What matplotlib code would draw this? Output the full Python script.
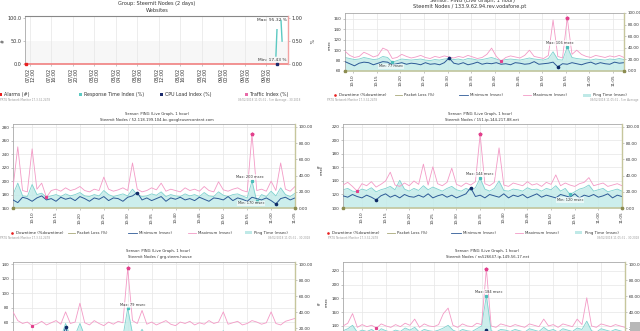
import numpy as np
import matplotlib
matplotlib.use('Agg')
import matplotlib.pyplot as plt
from matplotlib.patches import Rectangle

# ---------------- data ----------------
# Panel 1: group overview (2 days), hours after 07/02 12:00
p1_tick_labels = ["07/02\n12:00", "07/02\n16:00", "07/02\n20:00", "08/02\n00:00", "08/02\n04:00",
                  "08/02\n08:00", "08/02\n12:00", "08/02\n16:00", "08/02\n20:00", "09/02\n00:00",
                  "09/02\n04:00", "09/02\n08:00"]
resp_t = [45.75, 45.95, 46.3, 46.7, 46.9]
resp_v = [17.43, 75.0, np.nan, 95.32, 50.0]
cpu_t = [45.95]
cpu_v = [0.0]
alarm_t = [-0.9, 48.0]
alarm_v = [0.0, 0.0]

ping_tick_labels = ["10:10", "10:15", "10:20", "10:25", "10:30", "10:35",
                    "10:40", "10:45", "10:50", "10:55", "11:00", "11:05"]

# Panel 2: 133.9.62.94.rev.vodafone.pt
p2_max = [98, 90, 86, 88, 96, 92, 87, 90, 104, 100, 84, 86, 92, 88, 85, 87, 90, 86, 84, 88,
          86, 89, 87, 85, 88, 86, 90, 87, 84, 86, 92, 104, 88, 79, 86, 89, 87, 85, 90, 100,
          88, 86, 84, 90, 158, 88, 85, 162, 92, 100, 92, 88, 86, 90, 88, 86, 89, 87, 90, 86]
p2_ping = [86, 84, 82, 83, 86, 84, 82, 83, 88, 86, 77, 80, 83, 82, 81, 82, 83, 81, 80, 82,
           81, 83, 84, 82, 83, 81, 84, 83, 81, 82, 84, 86, 83, 80, 82, 83, 82, 81, 83, 85,
           83, 82, 81, 84, 97, 82, 81, 106, 86, 84, 83, 82, 81, 83, 82, 81, 83, 82, 84, 82]
p2_min = [78, 74, 70, 75, 77, 76, 72, 75, 78, 77, 72, 74, 76, 73, 75, 74, 72, 76, 73, 74,
          72, 76, 85, 75, 73, 76, 72, 74, 77, 73, 75, 74, 76, 73, 74, 72, 76, 75, 73, 74,
          78, 73, 74, 75, 77, 68, 74, 73, 76, 74, 72, 75, 77, 73, 76, 74, 73, 77, 75, 76]

# Panel 3: 52.118.199.104.bc.googleusercontent.com
p3_max = [190, 251, 186, 184, 248, 188, 197, 176, 186, 188, 185, 190, 186, 188, 192, 186, 184, 188, 186, 206,
          188, 185, 187, 190, 186, 227, 188, 184, 186, 190, 187, 197, 185, 188, 186, 184, 190, 186, 188, 185,
          192, 186, 184, 199, 187, 185, 188, 190, 186, 184, 270, 186, 188, 185, 200, 186, 227, 188, 185, 192]
p3_ping = [180, 197, 178, 177, 195, 180, 182, 176, 178, 180, 177, 181, 178, 180, 183, 178, 177, 180, 178, 186,
           180, 177, 179, 181, 178, 188, 180, 177, 178, 181, 179, 184, 177, 180, 178, 177, 181, 178, 180, 177,
           183, 178, 177, 184, 179, 177, 180, 181, 178, 175, 200, 170, 180, 177, 185, 178, 190, 180, 177, 182]
p3_min = [172, 168, 176, 174, 170, 175, 178, 172, 174, 170, 176, 173, 175, 171, 177, 174, 170, 175, 173, 177,
          171, 175, 174, 170, 176, 178, 183, 172, 175, 171, 174, 177, 170, 175, 173, 176, 172, 174, 171, 176,
          173, 170, 175, 174, 172, 177, 171, 175, 173, 170, 176, 174, 172, 175, 171, 166, 174, 176, 172, 175]

# Panel 4: 151.ip-144-217-88.net
p4_max = [134, 138, 132, 125, 136, 133, 139, 131, 135, 140, 153, 134, 132, 137, 133, 140, 135, 165, 134, 161,
          136, 133, 138, 159, 135, 132, 137, 134, 139, 209, 136, 133, 138, 189, 134, 132, 137, 135, 133, 139,
          134, 136, 132, 138, 135, 149, 133, 137, 134, 132, 136, 138, 145, 133, 135, 137, 132, 134, 136, 133]
p4_ping = [127, 129, 125, 124, 128, 126, 130, 124, 127, 129, 132, 127, 141, 128, 125, 129, 126, 133, 127, 131,
           128, 125, 129, 132, 127, 125, 129, 126, 130, 144, 128, 125, 129, 140, 126, 125, 128, 127, 125, 130,
           127, 128, 125, 129, 127, 133, 125, 129, 120, 124, 128, 130, 134, 125, 127, 129, 124, 126, 128, 125]
p4_min = [118, 116, 120, 117, 115, 119, 116, 112, 118, 121, 116, 119, 115, 120, 117, 116, 119, 116, 121, 115,
          118, 120, 116, 119, 115, 118, 121, 130, 117, 119, 115, 120, 118, 116, 121, 115, 119, 117, 120, 115,
          118, 121, 116, 119, 117, 115, 120, 118, 116, 121, 115, 119, 117, 120, 116, 118, 121, 115, 119, 117]

# Panel 5: grg.steem.house
p5_max = [74, 62, 58, 60, 55, 57, 61, 56, 59, 62, 57, 74, 58, 60, 86, 59, 56, 62, 58, 55,
          60, 57, 61, 59, 134, 62, 58, 76, 57, 60, 56, 59, 62, 57, 55, 60, 58, 61, 56, 59,
          57, 62, 58, 60, 74, 57, 59, 61, 56, 58, 62, 60, 57, 59, 74, 58, 56, 61, 63, 65]
p5_ping = [46, 40, 38, 42, 36, 39, 43, 37, 41, 44, 38, 58, 40, 42, 58, 41, 37, 44, 39, 36,
           42, 38, 43, 40, 79, 44, 39, 50, 38, 42, 37, 41, 44, 38, 36, 42, 39, 43, 37, 41,
           38, 44, 39, 42, 48, 38, 41, 43, 37, 40, 44, 42, 38, 41, 46, 39, 37, 43, 41, 44]
p5_min = [34, 31, 30, 33, 29, 31, 35, 30, 32, 34, 31, 53, 32, 33, 40, 32, 30, 34, 31, 29,
          33, 30, 34, 32, 45, 34, 31, 36, 30, 33, 29, 32, 34, 30, 29, 33, 31, 34, 30, 32,
          31, 34, 31, 33, 36, 30, 32, 34, 29, 31, 34, 33, 30, 32, 35, 31, 29, 34, 32, 34]

# Panel 6: ns526647.ip-149-56-17.net
p6_max = [140, 144, 158, 138, 142, 139, 141, 137, 143, 140, 138, 142, 139, 144, 141, 150, 138, 143, 140, 139,
          142, 158, 166, 141, 138, 143, 140, 139, 144, 142, 223, 140, 138, 143, 141, 139, 142, 140, 138, 143,
          141, 139, 150, 140, 142, 138, 143, 141, 139, 150, 142, 181, 140, 138, 143, 141, 139, 142, 140, 138]
p6_ping = [133, 136, 141, 131, 134, 132, 135, 130, 136, 133, 131, 134, 132, 137, 134, 138, 131, 135, 133, 132,
           134, 137, 141, 134, 131, 135, 133, 132, 136, 140, 184, 133, 131, 135, 134, 132, 135, 133, 131, 136,
           134, 132, 138, 133, 135, 131, 136, 134, 132, 137, 135, 147, 133, 131, 136, 134, 132, 135, 133, 131]
p6_min = [124, 127, 125, 122, 126, 123, 127, 121, 126, 124, 122, 125, 123, 128, 125, 126, 122, 126, 124, 123,
          125, 127, 126, 125, 122, 126, 124, 123, 127, 126, 134, 124, 122, 126, 125, 123, 126, 124, 122, 127,
          125, 123, 126, 124, 126, 122, 127, 125, 123, 126, 126, 128, 124, 122, 127, 125, 123, 126, 124, 122]

packet_loss = [0.0] * 60

# ---------------- style ----------------
W, H = 640, 331
C_FILL = '#c4ebe9'
C_PLINE = '#7fd2cf'
C_MAX = '#f39ac6'
C_MAXM = '#e2408c'
C_MIN = '#2d5a96'
C_MINM = '#0e2a66'
C_PL = '#c2c296'
C_GRID = '#e6e6e6'
C_SP = '#a8a8a8'
C_TXT = '#333333'
C_FOOT = '#9a9a9a'

plt.rcParams['font.family'] = ['DejaVu Sans']
fig = plt.figure(figsize=(6.4, 3.31), dpi=100)
fig.patch.set_facecolor('white')


def px_axes(x0, y0, x1, y1, **kw):
    return fig.add_axes([x0 / W, 1 - y1 / H, (x1 - x0) / W, (y1 - y0) / H], **kw)


def ping_panel(box, t0, ylim_l, yt_l, ylim_r, ping, mn, mx, maxoff, minoff, xlabels=True):
    ax = px_axes(*box)
    n = len(ping)
    x = np.arange(n)
    ping = np.asarray(ping, float)
    mn = np.asarray(mn, float)
    mx = np.asarray(mx, float)
    ax.set_xlim(0, n - 1)
    ax.set_ylim(*ylim_l)
    ax.set_axisbelow(True)
    ax.grid(True, color=C_GRID, lw=0.5)
    ax.fill_between(x, ylim_l[0], ping, color=C_FILL, lw=0, alpha=0.85, zorder=1)
    ax.plot(x, ping, color=C_PLINE, lw=0.6, zorder=2)
    ax.plot(x, mx, color=C_MAX, lw=0.6, zorder=3)
    ax.plot(x, mn, color=C_MIN, lw=0.7, zorder=4)
    i = int(np.argmax(mx)); ax.plot(i, mx[i], marker='*', ms=2.6, color=C_MAXM, zorder=6, clip_on=False)
    i = int(np.argmin(mx)); ax.plot(i, mx[i], marker='s', ms=1.3, color=C_MAXM, zorder=6)
    i = int(np.argmax(mn)); ax.plot(i, mn[i], marker='o', ms=1.6, color=C_MINM, zorder=6)
    i = int(np.argmin(mn)); ax.plot(i, mn[i], marker='o', ms=1.6, color=C_MINM, zorder=6)
    i = int(np.argmax(ping)); ax.plot(i, ping[i], marker='s', ms=1.4, color='#4cbdb9', zorder=6)
    ax.annotate(f"Max: {int(ping[i])} msec", xy=(i, ping[i]), xytext=maxoff, textcoords='offset points',
                ha='center', va='center', fontsize=2.6, color=C_TXT, zorder=7,
                bbox=dict(boxstyle='square,pad=0.2', fc='white', ec='none', alpha=0.6))
    j = int(np.argmin(ping)); ax.plot(j, ping[j], marker='s', ms=1.4, color='#4cbdb9', zorder=6)
    ax.annotate(f"Min: {int(ping[j])} msec", xy=(j, ping[j]), xytext=minoff, textcoords='offset points',
                ha='center', va='center', fontsize=2.6, color=C_TXT, zorder=7,
                bbox=dict(boxstyle='square,pad=0.2', fc='white', ec='none', alpha=0.6))
    ax.set_xticks([t0 + 5 * k for k in range(len(ping_tick_labels))])
    ax.set_xticklabels(ping_tick_labels, rotation=90)
    ax.set_yticks(yt_l)
    ax.set_yticklabels([str(v) for v in yt_l])
    ax.tick_params(labelsize=3.0, length=1.5, width=0.4, color='#999999', pad=1.2, labelcolor=C_TXT)
    if not xlabels:
        ax.tick_params(axis='x', labelbottom=False)
    for s in ('left', 'top'):
        ax.spines[s].set_color(C_SP); ax.spines[s].set_linewidth(0.6)
    ax.spines['right'].set_visible(False)
    ax.spines['bottom'].set_visible(False)
    ax2 = ax.twinx()
    ax2.set_ylim(*ylim_r)
    rt = [0, 20, 40, 60, 80, 100]
    ax2.set_yticks(rt)
    ax2.set_yticklabels([f"{v:.2f}" for v in rt])
    ax2.tick_params(labelsize=3.0, length=1.5, width=0.4, color='#999999', pad=1.0, labelcolor=C_TXT)
    ax2.plot(x, packet_loss[:n], color=C_PL, lw=1.1, clip_on=False, zorder=5)
    ax2.plot([0, n - 1], [packet_loss[0], packet_loss[n - 1]], ls='none', marker='s', ms=1.6,
             color='#8c8c50', clip_on=False, zorder=6)
    for s in ('left', 'top', 'bottom'):
        ax2.spines[s].set_visible(False)
    ax2.spines['right'].set_color('#c6c69c')
    ax2.spines['right'].set_linewidth(1.0)
    return ax


# ---------------- panel 1 ----------------
ax1 = px_axes(25, 16, 288, 64)
ax1.set_xlim(-0.93, 48)
ax1.set_ylim(0, 105)
ax1.axhspan(0, 50, color='#f7f7f7', lw=0, zorder=0)
ax1.set_axisbelow(True)
ax1.grid(True, axis='x', color=C_GRID, lw=0.5)
ax1.plot(alarm_t, alarm_v, color='#f08080', lw=1.2, clip_on=False, zorder=3)
ax1.plot(alarm_t[0] + 0.2, alarm_v[0], marker='s', ms=1.8, color='#e82020', clip_on=False, zorder=5)
ax1.plot(resp_t, resp_v, color='#5cc9c2', lw=1.0, zorder=4)
ax1.plot(cpu_t, cpu_v, ls='none', marker='s', ms=1.8, color='#1a2a6c', clip_on=False, zorder=5)
rv = np.array(resp_v)
imax = int(np.nanargmax(rv)); imin = int(np.nanargmin(rv))
ax1.annotate(f"Max: {rv[imax]:.2f} %", xy=(resp_t[imax], rv[imax]), xytext=(4, 0), textcoords='offset points',
             ha='right', va='center', fontsize=3.2, color=C_TXT, zorder=7)
ax1.annotate(f"Min: {rv[imin]:.2f} %", xy=(resp_t[imin], rv[imin]), xytext=(7.5, -3), textcoords='offset points',
             ha='right', va='center', fontsize=3.2, color=C_TXT, zorder=7)
ax1.set_xticks([4 * k for k in range(len(p1_tick_labels))])
ax1.set_xticklabels(p1_tick_labels, rotation=90, linespacing=1.1)
ax1.set_yticks([0, 50, 100])
ax1.set_yticklabels(["0.0", "50.0", "100.0"])
ax1.tick_params(labelsize=3.5, length=1.5, width=0.4, color='#999999', pad=1.2, labelcolor=C_TXT)
ax1.spines['left'].set_color(C_SP); ax1.spines['left'].set_linewidth(0.6)
ax1.spines['top'].set_color('#888888'); ax1.spines['top'].set_linewidth(0.8)
ax1.spines['bottom'].set_visible(False)
ax1.spines['right'].set_visible(False)
ax1b = ax1.twinx()
ax1b.set_ylim(0, 1.05)
ax1b.set_yticks([0, 0.5, 1.0])
ax1b.set_yticklabels(["0.00", "0.50", "1.00"])
ax1b.tick_params(labelsize=3.5, length=1.5, width=0.4, color='#999999', pad=1.2, labelcolor=C_TXT)
for s in ('left', 'top', 'bottom'):
    ax1b.spines[s].set_visible(False)
ax1b.spines['right'].set_color('#f2a3a3'); ax1b.spines['right'].set_linewidth(1.0)

# ---------------- ping panels ----------------
ping_panel((345, 13, 624, 71), 1.7, (60, 171.5), [60, 80, 100, 120, 140, 160], (0, 100),
           p2_ping, p2_min, p2_max, (-5, 3), (-1, -3))
ping_panel((13, 124, 295, 208), 4.0, (160, 285), [160, 180, 200, 220, 240, 260, 280], (0, 103.7),
           p3_ping, p3_min, p3_max, (-1.5, 3), (-4, -1.5))
ping_panel((343, 124, 622, 208), 4.0, (100, 224.4), [100, 120, 140, 160, 180, 200, 220], (0, 103.7),
           p4_ping, p4_min, p4_max, (0, 3), (0, -4))
ping_panel((13, 262, 295, 344), 4.0, (29.7, 142.8), [40, 60, 80, 100, 120, 140], (0, 102.5),
           p5_ping, p5_min, p5_max, (3.5, 2.5), (0, -4), xlabels=False)
ping_panel((343, 262, 625, 344), 4.0, (113.8, 233), [120, 140, 160, 180, 200, 220], (0, 102.5),
           p6_ping, p6_min, p6_max, (1.5, 3), (0, -4), xlabels=False)

# ---------------- overlay texts ----------------
ov = fig.add_axes([0, 0, 1, 1], zorder=20)
ov.set_xlim(0, W)
ov.set_ylim(H, 0)
ov.axis('off')
ov.patch.set_alpha(0)


def t(x, y, s, size=3.0, ha='center', color=C_TXT, rot=0):
    ov.text(x, y, s, fontsize=size, ha=ha, va='center', color=color, rotation=rot)


# titles
t(157, 3, "Group: Steemit Nodes (2 days)", 3.6)
t(157, 10.5, "Websites", 3.6)
t(472, 0.3, "Sensor: PING (Live Graph, 1 hour)", 3.6)
t(470, 6.7, "Steemit Nodes / 133.9.62.94.rev.vodafone.pt", 3.6)
t(157, 113.5, "Sensor: PING (Live Graph, 1 hour)", 2.7)
t(157, 120, "Steemit Nodes / 52.118.199.104.bc.googleusercontent.com", 2.7)
t(480, 113.5, "Sensor: PING (Live Graph, 1 hour)", 2.7)
t(482, 120, "Steemit Nodes / 151.ip-144-217-88.net", 2.7)
t(158, 250.7, "Sensor: PING (Live Graph, 1 hour)", 2.7)
t(160, 257, "Steemit Nodes / grg.steem.house", 2.7)
t(487, 250.7, "Sensor: PING (Live Graph, 1 hour)", 2.7)
t(488, 257, "Steemit Nodes / ns526647.ip-149-56-17.net", 2.7)

# axis unit labels
t(3, 41, "#", 3.3, rot=90)
t(310, 41, "%", 3.3, rot=270)
t(330, 45, "msec", 2.7, rot=90)
t(322, 170, "msec", 2.7, rot=90)
t(327, 302, "msec", 2.7, rot=90)
t(317, 167, "#", 3.0, rot=270)
t(317, 304, "#", 3.0, rot=270)

# panel 1 legend
leg1 = [(0.5, '#e82020', "Alarms (#)"), (80.5, '#5cc9c2', "Response Time Index (%)"),
        (161, '#1a2a6c', "CPU Load Index (%)"), (246.5, '#e86aa8', "Traffic Index (%)")]
for lx, col, lab in leg1:
    ov.add_patch(Rectangle((lx - 1.5, 93), 3, 3, color=col, lw=0))
    t(lx + 4, 94.5, lab, 3.4, ha='left')


def ping_legend(x0, sc, y):
    ov.plot([x0], [y], marker='o', ms=0.9, color='#e82020', ls='none')
    t(x0 + 4 * sc, y, "Downtime (%downtime)", 2.8, ha='left')
    ov.plot([x0 + 56 * sc, x0 + 63 * sc], [y, y], color='#a8a878', lw=0.6)
    t(x0 + 65 * sc, y, "Packet Loss (%)", 2.8, ha='left')
    ov.plot([x0 + 116 * sc, x0 + 125 * sc], [y, y], color=C_MIN, lw=0.6)
    t(x0 + 127 * sc, y, "Minimum (msec)", 2.8, ha='left')
    ov.plot([x0 + 176 * sc, x0 + 184 * sc], [y, y], color=C_MAX, lw=0.6)
    t(x0 + 186 * sc, y, "Maximum (msec)", 2.8, ha='left')
    ov.add_patch(Rectangle((x0 + 233 * sc, y - 1.5), 7 * sc, 3, color='#bfe9e7', lw=0))
    t(x0 + 242 * sc, y, "Ping Time (msec)", 2.8, ha='left')


ping_legend(335, 1.066, 95.3)
ping_legend(12, 1.0, 232.7)
ping_legend(328, 1.06, 232.7)

# footers
t(0, 99.8, "PRTG Network Monitor 17.3.32.2478", 2.0, ha='left', color=C_FOOT)
t(300, 99.8, "09/02/2018 11:05:31 - 5 m Average - 30 2018", 2.0, ha='right', color=C_FOOT)
t(327, 99.8, "PRTG Network Monitor 17.3.32.2478", 2.0, ha='left', color=C_FOOT)
t(639, 99.8, "09/02/2018 11:05:31 - 5 m Average", 2.0, ha='right', color=C_FOOT)
t(0, 238, "PRTG Network Monitor 17.3.32.2478", 2.0, ha='left', color=C_FOOT)
t(310, 238, "09/02/2018 11:05:31 - 30 2018", 2.0, ha='right', color=C_FOOT)
t(328, 238, "PRTG Network Monitor 17.3.32.2478", 2.0, ha='left', color=C_FOOT)
t(639, 238, "09/02/2018 11:05:31 - 30 2018", 2.0, ha='right', color=C_FOOT)

# scroll-to-top button
ov.add_patch(Rectangle((630, 322), 10, 9, color='#b8b8b8', lw=0))

fig.savefig('out.png', dpi=100, facecolor='white')
